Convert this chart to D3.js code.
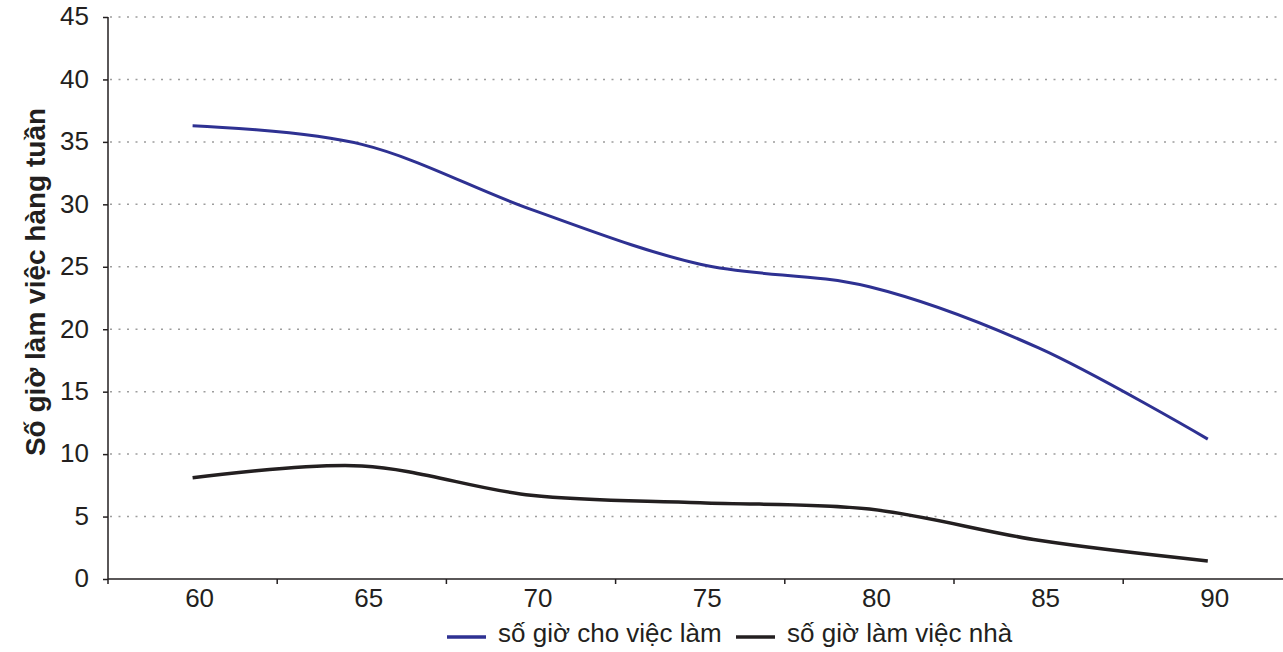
<html><head>
    <script src="https://d3js.org/d3.v7.min.js"></script>
    <style>
      body { margin: 0; background: #fff; }
      text { font-family: "Liberation Sans", Arial, sans-serif; fill: #231f20; }
      .grid line { stroke: #9d9d9d; stroke-width: 1.5px; stroke-dasharray: 2,6.5; }
      .axis path, .axis line { stroke: #231f20; stroke-width: 1.5px; }
    </style>
  </head>
  <body>
    <script>
      // data
      const ages = ["60", "65", "70", "75", "80", "85", "90"];
      const workHours = [36.3, 34.8, 29.6, 25.2, 23.4, 18.5, 11.2];
      const homeHours = [8.1, 9.05, 6.7, 6.1, 5.6, 3.1, 1.45];
      const yTicks = [0, 5, 10, 15, 20, 25, 30, 35, 40, 45];
      const seriesNames = ["số giờ cho việc làm", "số giờ làm việc nhà"];
      const seriesColors = ["#2e3192", "#231f20"];
      const yTitle = "Số giờ làm việc hàng tuần";

      const width = 1283, height = 652;
      const margin = {left: 108, top: 17, bottom: 73};
      const band = 169.2;

      const svg = d3.select("body").append("svg")
                    .attr("width", width)
                    .attr("height", height);

      const x = d3.scaleBand().domain(ages)
                  .range([margin.left, margin.left + band * ages.length]);
      const y = d3.scaleLinear().domain([0, 45])
                  .range([height - margin.bottom, margin.top]);

      //gridlines
      svg.append("g").attr("class", "grid")
         .selectAll("line").data(yTicks.filter(d => d > 0))
         .join("line")
         .attr("x1", margin.left + 2)
         .attr("x2", x.range()[1])
         .attr("y1", d => y(d))
         .attr("y2", d => y(d));

      //y axis
      const yAxis = svg.append("g").attr("class", "axis")
                       .attr("transform", "translate(" + margin.left + ",0)")
                       .call(d3.axisLeft(y).tickValues(yTicks).tickSize(5).tickPadding(14).tickSizeOuter(0));
      yAxis.selectAll("text").style("font-size", "26px").attr("dy", "0.3em");
      yAxis.select(".domain").attr("d", "M0," + y(45) + "V" + y(0));

      //x axis: line, ticks at band edges, labels
      const xAxis = svg.append("g").attr("class", "axis");
      xAxis.append("line")
           .attr("x1", margin.left).attr("x2", x.range()[1])
           .attr("y1", y(0)).attr("y2", y(0));
      xAxis.selectAll("line.tick").data(ages)
           .join("line").attr("class", "tick")
           .attr("x1", d => x(d)).attr("x2", d => x(d))
           .attr("y1", y(0)).attr("y2", y(0) + 5);
      xAxis.selectAll("text").data(ages)
           .join("text")
           .attr("x", d => x(d) + x.bandwidth() / 2 + 7)
           .attr("y", y(0) + 28)
           .attr("text-anchor", "middle")
           .style("font-size", "26px")
           .text(d => d);

      //y title
      svg.append("text")
         .attr("transform", "translate(45," + 282 + ") rotate(-90)")
         .attr("text-anchor", "middle")
         .style("font-size", "28px")
         .style("font-weight", "bold")
         .text(yTitle);

      //lines
      const line = d3.line()
                     .x((d, i) => x(ages[i]) + x.bandwidth() / 2)
                     .y(d => y(d))
                     .curve(d3.curveCardinal.tension(0));

      [workHours, homeHours].forEach((s, i) => {
        svg.append("path").datum(s)
           .attr("d", line)
           .attr("fill", "none")
           .attr("stroke", seriesColors[i])
           .attr("stroke-width", i == 0 ? 3 : 3.5);
      });

      //legend
      const legendX = [447, 736];
      const legend = svg.append("g");
      seriesNames.forEach((n, i) => {
        legend.append("line")
              .attr("x1", legendX[i]).attr("x2", legendX[i] + 39)
              .attr("y1", 637).attr("y2", 637)
              .attr("stroke", seriesColors[i])
              .attr("stroke-width", 3.5);
        legend.append("text")
              .attr("x", legendX[i] + 51)
              .attr("y", 642)
              .style("font-size", "26px")
              .text(n);
      });
    </script>
  </body></html>
